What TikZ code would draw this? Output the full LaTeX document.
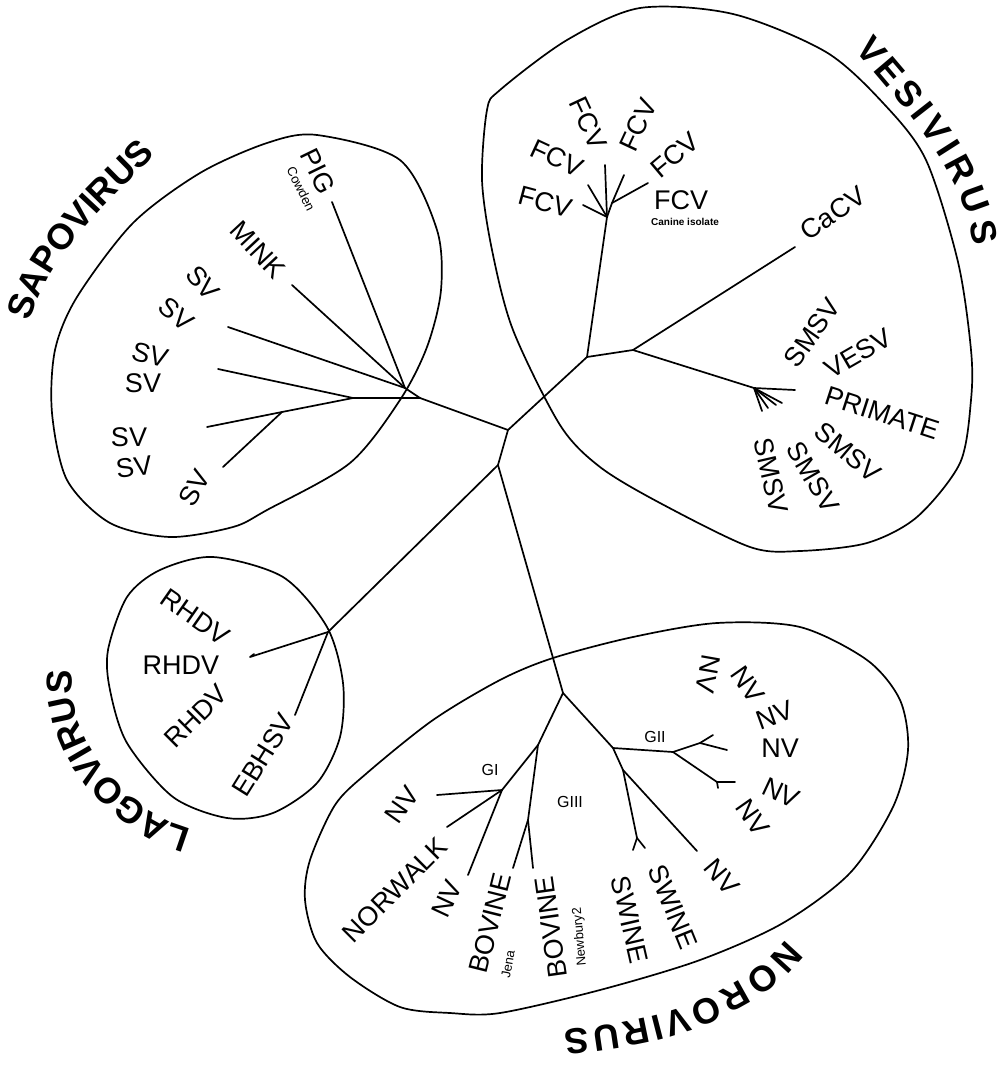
\documentclass[tikz,border=0pt]{standalone}
\usepackage{fontspec}
\setmainfont{Liberation Sans}
\usetikzlibrary{decorations.text}

\tikzset{
  branch/.style={line width=1.7pt, line cap=round, line join=round},
  group/.style={line width=1.7pt},
  taxon/.style={font=\fontsize{27}{27}\selectfont, inner sep=0pt},
  clade/.style={font=\fontsize{16}{16}\selectfont, inner sep=0pt},
  strain/.style={font=\fontsize{13}{13}\selectfont, inner sep=0pt},
  genus/.style={decorate, decoration={text along path, text align=fit to path,
    text={|\fontsize{36}{36}\bfseries\selectfont|#1}}},
}

\begin{document}
\begin{tikzpicture}[x=1pt, y=-1pt]
  \useasboundingbox (0,0) rectangle (1007,1065);

  % genus outlines
  \draw[group] plot[smooth cycle] coordinates {(317,135) (400,160) (437,230) (441,290) (427,347) (400,400) (350,463) (267,510) (233,527) (170,537) (110,523) (67,480) (52,413) (55,350) (77,297) (133,223) (200,173) (267,143)};
  \draw[group] plot[smooth cycle] coordinates {(487,110) (500,90) (567,40) (640,8) (733,14) (826,52) (884,104) (926,160) (958,262) (971,350) (971,400) (960,463) (917,517) (867,543) (800,551) (750,547) (660,503) (600,467) (560,425) (513,330) (492,250) (482,180)};
  \draw[group] plot[smooth cycle] coordinates {(213,557) (283,577) (327,627) (343,683) (340,737) (317,783) (273,813) (227,818) (173,797) (127,743) (110,690) (108,650) (127,597) (160,570)};
  \draw[group] plot[smooth cycle] coordinates {(717,623) (800,627) (867,660) (900,700) (908,750) (893,807) (850,873) (783,923) (700,960) (600,990) (500,1013) (450,1013) (400,1007) (350,977) (317,943) (305,900) (310,860) (335,805) (367,773) (433,720) (500,680) (553,658) (633,637)};

  % genus names
  \path[genus=SAPOVIRUS] (30,322) .. controls (50,252) and (106,204) .. (155,155);
  \path[genus=VESIVIRUS, decoration={raise=11pt}] (846,56) .. controls (893,114) and (955,174) .. (962,248);
  \path[genus=NOROVIRUS] (786,939) .. controls (737,1002) and (644,1023) .. (564,1030);
  \path[genus=LAGOVIRUS] (192,829) .. controls (129,814) and (63,737) .. (73,673);

  % trunk
  \coordinate (root) at (508,430);
  \coordinate (trunk) at (498,465);
  \coordinate (noro) at (563,693);
  \coordinate (sapo) at (420,398);
  \coordinate (vesi) at (587,357);
  \coordinate (lago) at (328,632);
  \draw[branch] (sapo) -- (root) -- (vesi);
  \draw[branch] (root) -- (trunk) -- (noro);
  \draw[branch] (trunk) -- (lago);

  % sapovirus
  \coordinate (sapoA) at (405,388);
  \coordinate (sapoB) at (353,398);
  \coordinate (sapoC) at (282,412);
  \coordinate (pigT) at (332,202);
  \coordinate (minkT) at (292,285);
  \coordinate (svT1) at (228,327);
  \coordinate (svT2) at (218,369);
  \coordinate (svT3) at (207,427);
  \coordinate (svT4) at (223,467);
  \draw[branch] (sapo) -- (sapoA) -- (pigT);
  \draw[branch] (sapoA) -- (minkT);
  \draw[branch] (sapoA) -- (svT1);
  \draw[branch] (sapo) -- (sapoB) -- (svT2);
  \draw[branch] (sapoB) -- (sapoC) -- (svT3);
  \draw[branch] (sapoC) -- (svT4);

  \node[taxon, rotate=-64] (pig) at (318,171) {PIG};
  \node[strain, rotate=-64] (cowden) at (301,189) {Cowden};
  \node[taxon, rotate=-47] (mink) at (258,250) {MINK};
  \node[taxon, rotate=-50] (sv1) at (203,283) {SV};
  \node[taxon, rotate=-40] (sv2) at (176,314) {SV};
  \node[taxon, rotate=-15] (sv3) at (150,355) {SV};
  \node[taxon] (sv4) at (143,383) {SV};
  \node[taxon] (sv5) at (129,437) {SV};
  \node[taxon, rotate=8] (sv6) at (134,467) {SV};
  \node[taxon, rotate=60] (sv7) at (194,488) {SV};

  % vesivirus
  \coordinate (vesiA) at (633,350);
  \coordinate (fcv) at (607,217);
  \coordinate (fcvA) at (612,203);
  \coordinate (cacvT) at (795,247);
  \coordinate (prim) at (754,388);
  \draw[branch] (vesi) -- (fcv);
  \draw[branch] (vesi) -- (vesiA) -- (cacvT);
  \draw[branch] (vesiA) -- (prim) -- (795,390);
  \foreach \t in {(782,403),(776,405),(768,408),(762,411)}
    \draw[branch] (prim) -- \t;
  \foreach \t in {(605,165),(588,185),(583,205)}
    \draw[branch] (fcv) -- \t;
  \draw[branch] (fcv) -- (fcvA) -- (624,175);
  \draw[branch] (fcvA) -- (648,183);

  \node[taxon, rotate=-15] (fcv1) at (545,202) {FCV};
  \node[taxon, rotate=-25] (fcv2) at (557,158) {FCV};
  \node[taxon, rotate=-65] (fcv3) at (588,123) {FCV};
  \node[taxon, rotate=65] (fcv4) at (638,125) {FCV};
  \node[taxon, rotate=40] (fcv5) at (675,155) {FCV};
  \node[taxon] (fcv6) at (681,200) {FCV};
  \node[strain, font=\fontsize{10}{10}\bfseries\selectfont] (canine) at (685,222) {Canine isolate};
  \node[taxon, rotate=35] (cacv) at (833,213) {CaCV};
  \node[taxon, rotate=55] (smsv1) at (812,333) {SMSV};
  \node[taxon, rotate=30] (vesv) at (858,353) {VESV};
  \node[taxon, rotate=-18] (primate) at (882,413) {PRIMATE};
  \node[taxon, rotate=-40] (smsv2) at (848,452) {SMSV};
  \node[taxon, rotate=-60] (smsv3) at (813,477) {SMSV};
  \node[taxon, rotate=-77] (smsv4) at (771,476) {SMSV};

  % lagovirus
  \coordinate (rhdvT) at (250,657);
  \coordinate (ebhsvT) at (295,715);
  \draw[branch] (lago) -- (rhdvT) -- (254,654);
  \draw[branch] (lago) -- (ebhsvT);

  \node[taxon, rotate=-35] (rhdv1) at (195,617) {RHDV};
  \node[taxon] (rhdv2) at (181,665) {RHDV};
  \node[taxon, rotate=45] (rhdv3) at (196,716) {RHDV};
  \node[taxon, rotate=58] (ebhsv) at (263,755) {EBHSV};

  % norovirus
  \coordinate (bov) at (538,745);
  \coordinate (gI) at (502,790);
  \coordinate (bovA) at (528,820);
  \coordinate (gII) at (613,748);
  \coordinate (gIIa) at (673,752);
  \coordinate (gIIb) at (700,743);
  \coordinate (gIIc) at (717,782);
  \coordinate (swi) at (623,770);
  \coordinate (swiA) at (637,838);
  \draw[branch] (noro) -- (bov) -- (gI);
  \draw[branch] (bov) -- (bovA) -- (513,868);
  \draw[branch] (bovA) -- (533,868);
  \foreach \t in {(437,795),(447,827),(468,875)}
    \draw[branch] (gI) -- \t;
  \draw[branch] (noro) -- (gII) -- (gIIa) -- (gIIb) -- (713,735);
  \draw[branch] (gIIb) -- (727,750);
  \draw[branch] (gIIa) -- (gIIc) -- (735,782);
  \draw[branch] (gIIc) -- (718,788);
  \draw[branch] (gII) -- (swi) -- (swiA) -- (633,850);
  \draw[branch] (swiA) -- (645,848);
  \draw[branch] (swi) -- (697,851);

  \node[clade] (gIlab) at (490,770) {GI};
  \node[clade] (gIIlab) at (655,737) {GII};
  \node[clade] (gIIIlab) at (570,802) {GIII};
  \node[taxon, rotate=55] (nv1) at (402,805) {NV};
  \node[taxon, rotate=45] (norwalk) at (395,890) {NORWALK};
  \node[taxon, rotate=65] (nv2) at (447,899) {NV};
  \node[taxon, rotate=76] (bov1) at (490,923) {BOVINE};
  \node[strain, rotate=80] (jena) at (508,964) {Jena};
  \node[taxon, rotate=98] (bov2) at (551,927) {BOVINE};
  \node[strain, rotate=95] (newbury) at (580,937) {Newbury2};
  \node[taxon, rotate=-77] (swine1) at (630,920) {SWINE};
  \node[taxon, rotate=-68] (swine2) at (673,907) {SWINE};
  \node[taxon, rotate=-50] (nv3) at (722,877) {NV};
  \node[taxon, rotate=-100] (nv4) at (708,674) {NV};
  \node[taxon, rotate=-55] (nv5) at (748,685) {NV};
  \node[taxon, rotate=20] (nv6) at (775,715) {NV};
  \node[taxon] (nv7) at (780,748) {NV};
  \node[taxon, rotate=-25] (nv8) at (781,793) {NV};
  \node[taxon, rotate=-55] (nv9) at (753,818) {NV};
\end{tikzpicture}
\end{document}
